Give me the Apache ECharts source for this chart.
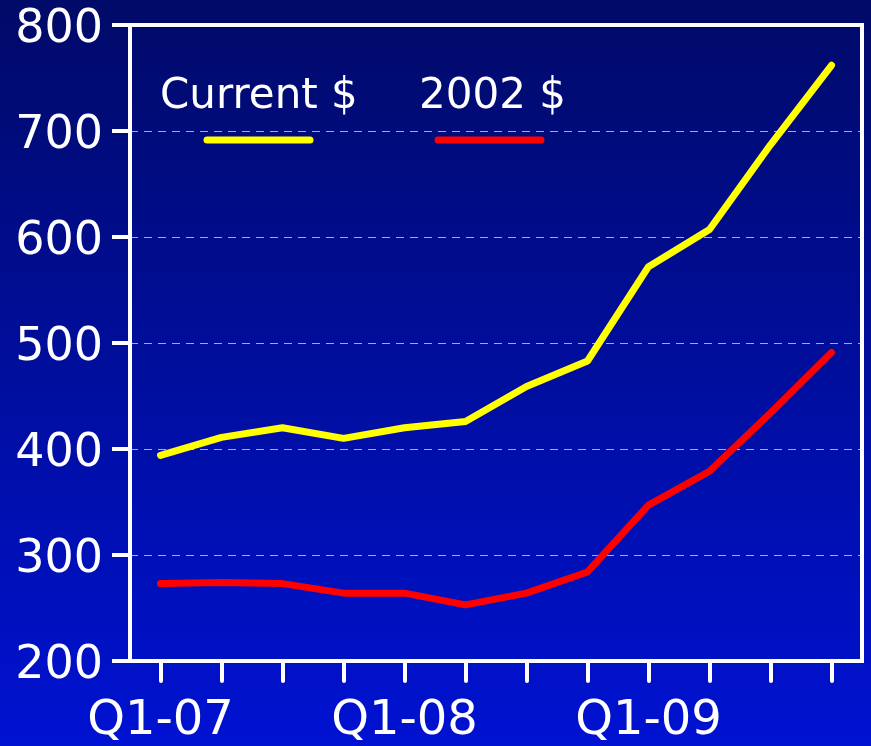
<!DOCTYPE html>
<html>
<head>
<meta charset="utf-8">
<script src="https://cdn.jsdelivr.net/npm/echarts@6/dist/echarts.min.js"></script>
<style>
  html, body { margin: 0; padding: 0; }
  #chart { width: 871px; height: 746px; }
</style>
</head>
<body>
<div id="chart"></div>
<script>
// quarters Q1-07 .. Q4-09
const quarters = ['Q1-07', 'Q2-07', 'Q3-07', 'Q4-07', 'Q1-08', 'Q2-08', 'Q3-08', 'Q4-08', 'Q1-09', 'Q2-09', 'Q3-09', 'Q4-09'];
const currentDollars = [394, 411, 420, 410, 420, 426, 459, 483, 572, 607, 687, 762];
const dollars2002 = [273, 274, 273, 264, 264, 253, 264, 284, 347, 379, 434, 491];
const seriesNames = ['Current $', '2002 $'];
const yTicks = [200, 800, 100];  // min, max, step

const chart = echarts.init(document.getElementById('chart'));
const font = 'DejaVu Sans';

const option = {
  backgroundColor: {
    type: 'linear', x: 0, y: 0, x2: 0, y2: 1,
    colorStops: [
      { offset: 0, color: '#000a68' },
      { offset: 1, color: '#0012d2' }
    ]
  },
  animation: false,
  grid: {
    left: 130, right: 9, top: 25, bottom: 84,
    show: true, borderColor: '#ffffff', borderWidth: 4,
    backgroundColor: 'transparent'
  },
  xAxis: {
    type: 'category',
    data: quarters,
    boundaryGap: true,
    axisLine: { lineStyle: { color: '#ffffff', width: 4 } },
    axisTick: { show: true, alignWithLabel: true, interval: 0, length: 20, lineStyle: { color: '#ffffff', width: 4, cap: 'round' } },
    axisLabel: { interval: 3, color: '#ffffff', fontSize: 48, fontFamily: font, margin: 37 },
    splitLine: { show: false }
  },
  yAxis: {
    type: 'value',
    min: yTicks[0], max: yTicks[1], interval: yTicks[2],
    axisLine: { show: true, lineStyle: { color: '#ffffff', width: 4 } },
    axisTick: { show: true, length: 18, lineStyle: { color: '#ffffff', width: 4 } },
    axisLabel: {
      color: '#ffffff', fontSize: 46, fontFamily: font, margin: 27,
      formatter: '{v|{value}}',
      rich: { v: { color: '#ffffff', fontSize: 46, fontFamily: font, padding: [10, 0, 0, 0] } }
    },
    splitLine: { lineStyle: { color: 'rgba(255,255,255,0.65)', width: 1.2, type: [8, 6] } }
  },
  graphic: [
    { type: 'text', left: 160, top: 76, style: { text: seriesNames[0], fill: '#ffffff', font: '42px "DejaVu Sans"' } },
    { type: 'text', left: 419, top: 76, style: { text: seriesNames[1], fill: '#ffffff', font: '42px "DejaVu Sans"' } },
    { type: 'line', shape: { x1: 207, y1: 140, x2: 310, y2: 140 }, style: { stroke: '#ffff00', lineWidth: 7, lineCap: 'round' } },
    { type: 'line', shape: { x1: 438, y1: 140, x2: 541, y2: 140 }, style: { stroke: '#ff0000', lineWidth: 7, lineCap: 'round' } }
  ],
  series: [
    {
      name: seriesNames[0], type: 'line', data: currentDollars,
      showSymbol: false, symbol: 'none',
      lineStyle: { color: '#ffff00', width: 7, cap: 'round' }
    },
    {
      name: seriesNames[1], type: 'line', data: dollars2002,
      showSymbol: false, symbol: 'none',
      lineStyle: { color: '#ff0000', width: 7, cap: 'round' }
    }
  ]
};
chart.setOption(option);
</script>
</body>
</html>
